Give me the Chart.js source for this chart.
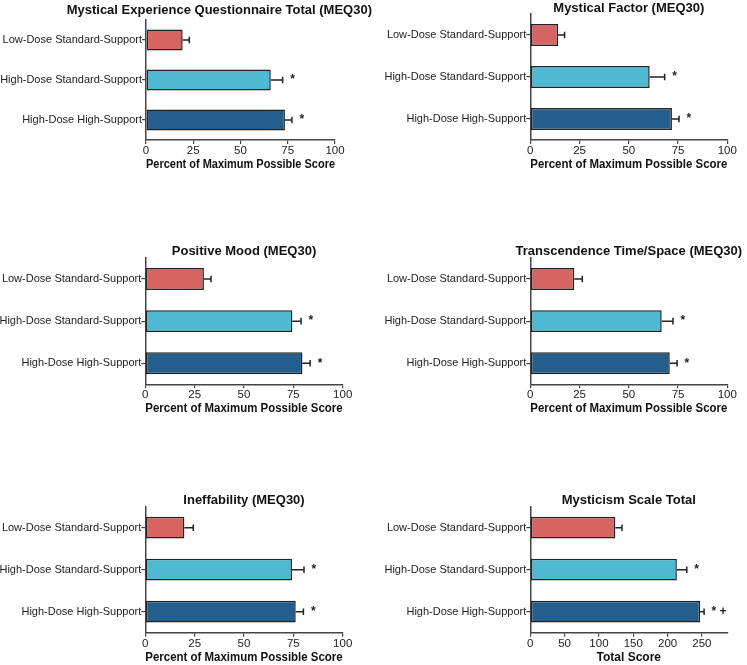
<!DOCTYPE html>
<html>
<head>
<meta charset="utf-8">
<script src="https://cdn.jsdelivr.net/npm/chart.js@4.4.1/dist/chart.umd.min.js"></script>
<style>
  html, body { margin: 0; padding: 0; background: #fff; }
  #wrap { position: relative; width: 747px; height: 665px; overflow: hidden; }
  #wrap canvas { position: absolute; }
</style>
</head>
<body>
<div id="wrap"></div>
<script>
(function () {
    'use strict';

    // ---- data ----
    var groups = ['Low-Dose Standard-Support', 'High-Dose Standard-Support', 'High-Dose High-Support'];
    var groupColors = ['#d66462', '#4fb9d2', '#245e8c'];

    var titles = [
        'Mystical Experience Questionnaire Total (MEQ30)',
        'Mystical Factor (MEQ30)',
        'Positive Mood (MEQ30)',
        'Transcendence Time/Space (MEQ30)',
        'Ineffability (MEQ30)',
        'Mysticism Scale Total'
    ];
    var axisTitles = [
        'Percent of Maximum Possible Score',
        'Percent of Maximum Possible Score',
        'Percent of Maximum Possible Score',
        'Percent of Maximum Possible Score',
        'Percent of Maximum Possible Score',
        'Total Score'
    ];

    var meqTotalMean      = [19.4, 66.0, 73.5];
    var meqTotalErr       = [3.5, 6.3, 3.7];
    var mysticalMean      = [14.1, 60.6, 71.9];
    var mysticalErr       = [3.3, 7.6, 3.6];
    var moodMean          = [29.7, 74.5, 79.6];
    var moodErr           = [3.6, 4.4, 3.9];
    var transcendMean     = [22.3, 66.7, 70.8];
    var transcendErr      = [4.1, 5.7, 3.7];
    var ineffMean         = [19.8, 74.3, 76.2];
    var ineffErr          = [4.5, 6.1, 3.9];
    var msTotalMean       = [123.9, 213.5, 247.4];
    var msTotalErr        = [9.7, 14.5, 5.8];

    var sigMarks      = ['', '*', '*'];
    var sigMarksTotal = ['', '*', '* +'];

    var percentTicks = [0, 25, 50, 75, 100];
    var totalTicks   = [0, 50, 100, 150, 200, 250];
    var percentMax = 100;
    var totalMax   = 287;

    var means  = [meqTotalMean, mysticalMean, moodMean, transcendMean, ineffMean, msTotalMean];
    var errs   = [meqTotalErr, mysticalErr, moodErr, transcendErr, ineffErr, msTotalErr];
    var marks  = [sigMarks, sigMarks, sigMarks, sigMarks, sigMarks, sigMarksTotal];
    var ticks  = [percentTicks, percentTicks, percentTicks, percentTicks, percentTicks, totalTicks];
    var maxes  = [percentMax, percentMax, percentMax, percentMax, percentMax, totalMax];

    // ---- layout (page pixels) ----
    var panels = [
        { box: { x: 0,   y: 0,   w: 373, h: 172 }, area: { l: 146,   r: 335,   t: 20,    b: 140 },   titleY: 10 },
        { box: { x: 373, y: 0,   w: 374, h: 172 }, area: { l: 530.3, r: 727.3, t: 14,    b: 140 },   titleY: 8.5 },
        { box: { x: 0,   y: 232, w: 373, h: 184 }, area: { l: 145.3, r: 342.7, t: 258,   b: 384.3 }, titleY: 251.7 },
        { box: { x: 373, y: 232, w: 374, h: 184 }, area: { l: 530.3, r: 727.3, t: 258,   b: 384.3 }, titleY: 251.7 },
        { box: { x: 0,   y: 480, w: 373, h: 185 }, area: { l: 145.3, r: 342.7, t: 506.7, b: 632.7 }, titleY: 500 },
        { box: { x: 373, y: 480, w: 374, h: 185 }, area: { l: 530.3, r: 727.3, t: 506.7, b: 632.7 }, titleY: 500 }
    ];

    var INK = '#222';
    var AXIS = '#444';

    Chart.defaults.font.family = '"Liberation Sans", Arial, Helvetica, sans-serif';
    Chart.defaults.color = INK;

    var errorBars = {
        id: 'errorBars',
        afterDatasetsDraw: function (chart, args, opts) {
            var ctx = chart.ctx;
            var xs = chart.scales.x;
            var meta = chart.getDatasetMeta(0);
            ctx.save();
            ctx.strokeStyle = INK;
            ctx.lineWidth = 1.5;
            ctx.fillStyle = INK;
            ctx.font = 'bold 12px "Liberation Sans", Arial, sans-serif';
            ctx.textBaseline = 'middle';
            ctx.textAlign = 'left';
            meta.data.forEach(function (bar, i) {
                var m = opts.means[i];
                var x0 = xs.getPixelForValue(m);
                var x1 = xs.getPixelForValue(m + opts.errs[i]);
                var y = bar.y;
                ctx.beginPath();
                ctx.moveTo(x0, y);
                ctx.lineTo(x1, y);
                ctx.moveTo(x1, y - 3.3);
                ctx.lineTo(x1, y + 3.3);
                ctx.stroke();
                if (opts.marks[i]) {
                    ctx.fillText(opts.marks[i], x1 + 7.5, y);
                }
            });
            ctx.restore();
        }
    };

    var panelTitle = {
        id: 'panelTitle',
        afterDraw: function (chart, args, opts) {
            var ctx = chart.ctx;
            var a = chart.chartArea;
            ctx.save();
            ctx.font = 'bold 13px "Liberation Sans", Arial, sans-serif';
            ctx.fillStyle = '#111';
            ctx.textBaseline = 'middle';
            ctx.textAlign = 'center';
            var w = ctx.measureText(opts.text).width;
            var cx = (a.left + a.right) / 2;
            if (cx + w / 2 > chart.width - 1) cx = chart.width - 1 - w / 2;
            ctx.fillText(opts.text, cx, opts.y);
            ctx.restore();
        }
    };

    function makePanel(i) {
        var p = panels[i];
        var b = p.box, a = p.area;
        var canvas = document.createElement('canvas');
        canvas.width = b.w;
        canvas.height = b.h;
        canvas.style.left = b.x + 'px';
        canvas.style.top = b.y + 'px';
        canvas.style.width = b.w + 'px';
        canvas.style.height = b.h + 'px';
        document.getElementById('wrap').appendChild(canvas);

        var yWidth = a.l - b.x;
        var xHeight = (b.y + b.h) - a.b;
        var tickList = ticks[i];

        new Chart(canvas, {
            type: 'bar',
            data: {
                labels: groups,
                datasets: [{
                    data: means[i],
                    backgroundColor: groupColors,
                    borderColor: INK,
                    borderWidth: 1.5,
                    borderSkipped: false,
                    barPercentage: 0.52,
                    categoryPercentage: 1
                }]
            },
            options: {
                indexAxis: 'y',
                responsive: false,
                animation: false,
                devicePixelRatio: 1,
                layout: {
                    padding: { top: a.t - b.y, right: (b.x + b.w) - a.r, left: 0, bottom: 0 }
                },
                plugins: {
                    legend: { display: false },
                    title: { display: false },
                    tooltip: { enabled: false },
                    errorBars: { means: means[i], errs: errs[i], marks: marks[i] },
                    panelTitle: { text: titles[i], y: p.titleY - b.y }
                },
                scales: {
                    x: {
                        type: 'linear',
                        min: 0,
                        max: maxes[i],
                        afterBuildTicks: function (s) {
                            s.ticks = tickList.map(function (v) { return { value: v }; });
                        },
                        afterFit: function (s) { s.height = xHeight; },
                        grid: { drawOnChartArea: false, drawTicks: true, tickLength: 4, color: AXIS, lineWidth: 1.2 },
                        border: { display: true, color: AXIS, width: 1.5 },
                        ticks: { padding: 0, font: { size: 11.5 }, color: INK, maxRotation: 0 },
                        title: {
                            display: true,
                            text: axisTitles[i],
                            font: { size: 12, weight: 'bold' },
                            color: '#111',
                            padding: 0
                        }
                    },
                    y: {
                        type: 'category',
                        offset: true,
                        afterFit: function (s) { s.width = yWidth; },
                        grid: { drawOnChartArea: false, drawTicks: true, offset: false, tickLength: 4, color: AXIS, lineWidth: 1.2 },
                        border: { display: true, color: AXIS, width: 1.5 },
                        ticks: { padding: 0, font: { size: 11 }, color: INK }
                    }
                }
            },
            plugins: [errorBars, panelTitle]
        });
    }

    for (var i = 0; i < panels.length; i++) makePanel(i);
})();
</script>
</body>
</html>
